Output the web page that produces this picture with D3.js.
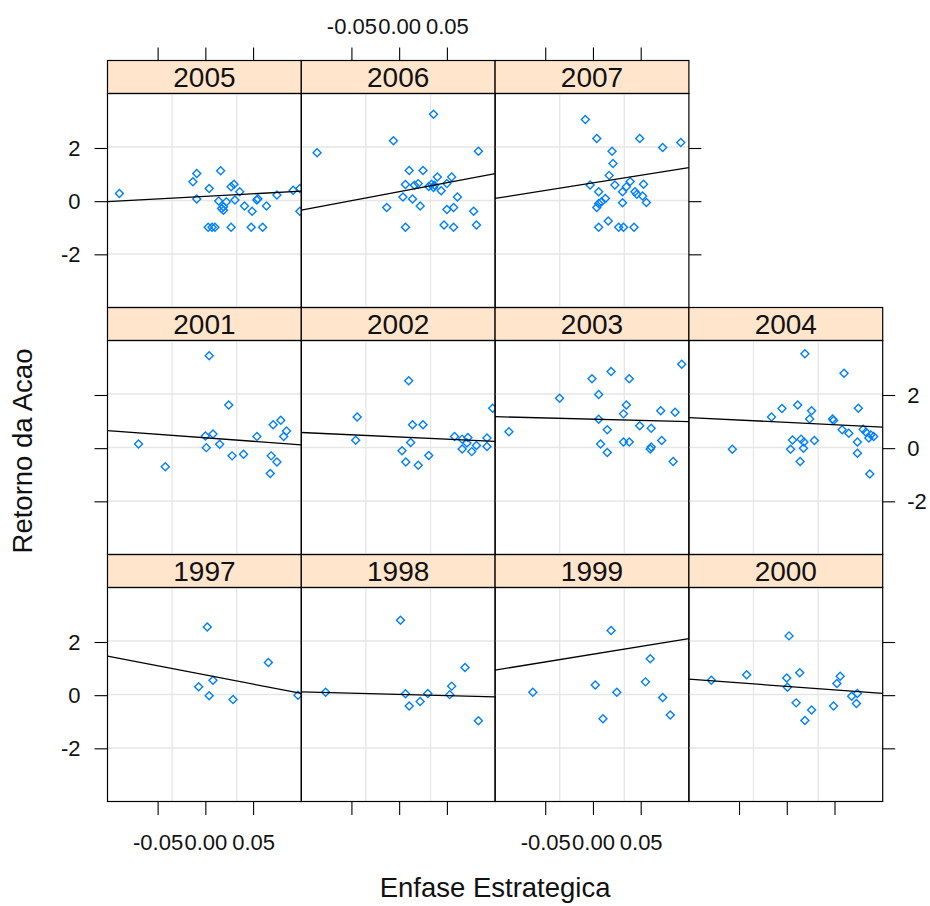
<!DOCTYPE html>
<meta charset="utf-8">
<style>
  body { margin: 0; background: #fff; }
  svg { font-family: "Liberation Sans", Arial, sans-serif; }
  .strip text { font-size: 28px; text-anchor: middle; fill: #111; }
  .grid line { stroke: #e6e6e6; stroke-width: 1.3; }
  .pt { fill: none; stroke: #0080ff; stroke-width: 1.4; }
  .fit { fill: none; stroke: #000; stroke-width: 1.3; }
  .axis text { font-size: 22px; fill: #111; }
  .axis line { stroke: #000; stroke-width: 1.1; }
  .title { font-size: 27.5px; fill: #111; }
</style>
<svg width="930" height="906"></svg>
<script src="https://cdnjs.cloudflare.com/ajax/libs/d3/7.8.5/d3.min.js"></script>
<script>

// panels, in lattice order (bottom-left first)
var years = [1997, 1998, 1999, 2000, 2001, 2002, 2003, 2004, 2005, 2006, 2007];

var xTicks = [-0.05, 0, 0.05];
var yTicks = [-2, 0, 2];

// Enfase Estrategica (x) / Retorno da Acao (y), per year
var x1997 = [0.002, 0.066, -0.007, 0.008, 0.004, 0.029, 0.097];
var y1997 = [2.56, 1.23, 0.32, 0.56, -0.02, -0.16, 0.00];
var x1998 = [0.0014, -0.077, 0.0066, 0.0105, 0.022, 0.030, 0.053, 0.055, 0.069, 0.083];
var y1998 = [2.82, 0.11, 0.05, -0.41, -0.24, 0.06, 0.02, 0.34, 1.04, -0.96];
var x1999 = [0.019, -0.063, 0.0024, 0.025, 0.0105, 0.060, 0.055, 0.073, 0.081];
var y1999 = [2.43, 0.11, 0.38, 0.11, -0.89, 1.37, 0.50, -0.09, -0.75];
var x2000 = [-0.079, -0.042, 0.0024, 0.000, 0.0007, 0.0136, 0.0098, 0.026, 0.019, 0.049, 0.056, 0.0525, 0.068, 0.074, 0.073];
var y2000 = [0.56, 0.77, 2.23, 0.65, 0.30, 0.84, -0.29, -0.56, -0.95, -0.41, 0.71, 0.44, -0.04, 0.06, -0.31];
var x2001 = [0.004, 0.0245, -0.070, -0.042, 0.000, 0.008, 0.001, 0.015, 0.028, 0.040, 0.054, 0.071, 0.079, 0.085, 0.082, 0.069, 0.075, 0.068];
var y2001 = [3.48, 1.62, 0.16, -0.70, 0.46, 0.53, 0.02, 0.15, -0.29, -0.23, 0.44, 0.88, 1.05, 0.65, 0.44, -0.29, -0.52, -0.95];
var x2002 = [0.010, -0.044, -0.0455, 0.014, 0.025, 0.012, 0.003, 0.007, 0.020, 0.031, 0.058, 0.066, 0.072, 0.071, 0.066, 0.076, 0.081, 0.092, 0.092, 0.098];
var y2002 = [2.54, 1.17, 0.30, 0.88, 0.88, 0.21, -0.10, -0.52, -0.64, -0.28, 0.44, 0.34, 0.40, 0.19, -0.03, -0.13, 0.10, 0.38, 0.06, 1.50];
var x2003 = [0.093, 0.019, -0.001, 0.038, -0.035, 0.006, 0.035, 0.032, 0.071, 0.086, -0.088, 0.006, 0.015, 0.049, 0.061, 0.008, 0.015, 0.032, 0.038, 0.060, 0.061, 0.072, 0.084];
var y2003 = [3.16, 2.88, 2.61, 2.61, 1.88, 2.02, 1.62, 1.29, 1.41, 1.35, 0.62, 1.09, 0.69, 0.84, 0.75, 0.16, -0.16, 0.23, 0.23, -0.03, 0.04, 0.29, -0.50];
var x2004 = [0.019, 0.060, -0.057, -0.016, -0.005, 0.0115, 0.026, 0.024, 0.048, 0.049, 0.075, 0.058, 0.065, 0.080, 0.083, 0.088, 0.091, 0.086, 0.074, 0.074, 0.087, 0.006, 0.015, 0.018, 0.029, 0.004, 0.0175, 0.014];
var y2004 = [3.55, 2.82, -0.04, 1.17, 1.49, 1.62, 1.41, 1.10, 1.10, 1.04, 1.50, 0.69, 0.56, 0.71, 0.60, 0.50, 0.44, 0.38, 0.23, -0.19, -0.97, 0.31, 0.34, 0.23, 0.29, -0.04, 0.00, -0.50];
var x2005 = [-0.090, -0.009, -0.013, 0.016, 0.004, -0.009, 0.014, 0.019, 0.019, 0.022, 0.027, 0.030, 0.031, 0.036, 0.041, 0.049, 0.054, 0.055, 0.064, 0.075, 0.092, 0.099, 0.099, 0.003, 0.007, 0.010, 0.027, 0.048, 0.060, 0.017];
var y2005 = [0.29, 1.04, 0.73, 1.14, 0.48, 0.08, 0.01, -0.21, -0.34, -0.02, 0.54, 0.64, 0.04, 0.35, -0.18, -0.38, 0.04, 0.09, -0.18, 0.23, 0.41, 0.48, -0.38, -0.98, -0.98, -0.98, -0.98, -0.98, -0.98, -0.28];
var x2006 = [-0.086, -0.006, 0.036, 0.083, 0.0105, 0.025, 0.0066, 0.016, 0.020, 0.034, 0.040, 0.036, 0.044, 0.050, 0.055, 0.004, 0.014, 0.061, -0.013, 0.022, 0.050, 0.057, 0.078, 0.0066, 0.047, 0.057, 0.081, 0.031, 0.037];
var y2006 = [1.82, 2.27, 3.27, 1.88, 1.15, 1.15, 0.63, 0.60, 0.66, 0.64, 0.91, 0.51, 0.39, 0.66, 0.91, 0.16, 0.08, 0.16, -0.24, -0.18, -0.31, -0.24, -0.38, -0.98, -0.90, -0.98, -0.90, 0.55, 0.60];
var x2007 = [-0.008, 0.004, 0.049, 0.073, 0.092, 0.020, 0.021, 0.017, -0.003, 0.023, 0.039, 0.053, 0.006, 0.031, 0.035, 0.044, 0.046, 0.052, 0.013, 0.009, 0.006, 0.004, 0.031, 0.056, 0.016, 0.006, 0.027, 0.032, 0.043];
var y2007 = [3.07, 2.36, 2.36, 2.02, 2.21, 1.88, 1.42, 0.97, 0.61, 0.61, 0.74, 0.64, 0.35, 0.35, 0.54, 0.35, 0.26, 0.19, 0.10, -0.02, -0.09, -0.24, -0.06, -0.05, -0.75, -0.98, -0.98, -0.98, -0.98];

// regression line per year (intercept, slope)
var fitIntercept = [0.76, 0.03, 1.54, 0.33, 0.39, 0.42, 1.09, 0.97, 0.18, 0.355, 0.69];
var fitSlope = [-6.9, -0.93, 5.82, -2.64, -2.64, -1.66, -0.93, -1.76, 1.96, 6.75, 5.72];

var xs = [x1997, x1998, x1999, x2000, x2001, x2002, x2003, x2004, x2005, x2006, x2007];
var ys = [y1997, y1998, y1999, y2000, y2001, y2002, y2003, y2004, y2005, y2006, y2007];

var svg = d3.select("svg");

// layout
var padLeft = 107.5, padTop = 60.5,
    panelW = 193.8, panelH = 214, stripH = 33,
    nCol = 4, nRow = 3;

var x = d3.scaleLinear().domain([-0.1025, 0.1005]).range([0, panelW]);
var y = d3.scaleLinear().domain([-4.0, 4.05]).range([panelH, 0]);

var fmtX = function(d) { return d.toFixed(2); };
var fmtY = function(d) { return String(d); };

var line = d3.line()
    .x(function(d) { return x(d[0]); })
    .y(function(d) { return y(d[1]); });

var diamond = d3.symbol().type(d3.symbolSquare).size(32);

var defs = svg.append("defs");
defs.append("clipPath").attr("id", "clip")
  .append("rect").attr("width", panelW).attr("height", panelH);

years.forEach(function(yr, i) {
  var col = i % nCol,
      row = nRow - 1 - Math.floor(i / nCol),   // row 0 = top
      gx = padLeft + col * panelW,
      gy = padTop + row * (stripH + panelH);

  var g = svg.append("g").attr("transform", "translate(" + gx + "," + gy + ")");

  // strip
  var s = g.append("g").attr("class", "strip");
  s.append("rect")
      .attr("width", panelW).attr("height", stripH)
      .attr("fill", "#ffe5cc").attr("stroke", "#000").attr("stroke-width", 1.2);
  s.append("text")
      .attr("x", panelW / 2).attr("y", stripH / 2)
      .attr("dy", "0.37em")
      .text(yr);

  var p = g.append("g").attr("transform", "translate(0," + stripH + ")");

  // background grid (equally spaced, as panel.grid)
  var grid = p.append("g").attr("class", "grid");
  [1, 2].forEach(function(k) {
    grid.append("line").attr("x1", panelW * k / 3).attr("x2", panelW * k / 3)
        .attr("y1", 0).attr("y2", panelH);
  });
  [1, 2, 3].forEach(function(k) {
    grid.append("line").attr("y1", panelH * k / 4).attr("y2", panelH * k / 4)
        .attr("x1", 0).attr("x2", panelW);
  });

  var inner = p.append("g").attr("clip-path", "url(#clip)");

  var pts = xs[i].map(function(v, j) { return [v, ys[i][j]]; });
  inner.selectAll(".pt")
    .data(pts)
    .enter().append("path")
      .attr("class", "pt")
      .attr("d", diamond)
      .attr("transform", function(d) {
        return "translate(" + x(d[0]) + "," + y(d[1]) + ") rotate(45)";
      });

  var dom = x.domain();
  inner.append("path")
      .attr("class", "fit")
      .attr("d", line(dom.map(function(v) { return [v, fitIntercept[i] + fitSlope[i] * v]; })));

  p.append("rect")
      .attr("width", panelW).attr("height", panelH)
      .attr("fill", "none").attr("stroke", "#000").attr("stroke-width", 1.2);

  // axes, alternating like lattice
  function clean(a) {
    a.select(".domain").remove();
    a.selectAll("text").attr("fill", "#111");
    a.selectAll("line").attr("stroke", "#000");
  }
  var lastInRow = (i === years.length - 1) || (col === nCol - 1);

  if (row === nRow - 1) {
    var ab = p.append("g").attr("class", "axis")
        .attr("transform", "translate(0," + panelH + ")")
        .call(d3.axisBottom(x).tickValues(xTicks).tickSize(13.5).tickPadding(19)
              .tickFormat(col % 2 === 0 ? fmtX : ""));
    clean(ab);
  }
  if (row === 0) {
    var at = g.append("g").attr("class", "axis")
        .call(d3.axisTop(x).tickValues(xTicks).tickSize(13).tickPadding(14)
              .tickFormat(col % 2 === 1 ? fmtX : ""));
    clean(at);
  }
  if (col === 0) {
    var al = p.append("g").attr("class", "axis")
        .call(d3.axisLeft(y).tickValues(yTicks).tickSize(13).tickPadding(14)
              .tickFormat(row % 2 === 0 ? fmtY : ""));
    clean(al);
  }
  if (lastInRow) {
    var ar = p.append("g").attr("class", "axis")
        .attr("transform", "translate(" + panelW + ",0)")
        .call(d3.axisRight(y).tickValues(yTicks).tickSize(12.5).tickPadding(12)
              .tickFormat(row % 2 === 1 ? fmtY : ""));
    clean(ar);
  }
});

// axis titles
svg.append("text").attr("class", "title")
    .attr("x", padLeft + nCol * panelW / 2).attr("y", 897)
    .attr("text-anchor", "middle")
    .text("Enfase Estrategica");

svg.append("text").attr("class", "title")
    .attr("transform", "translate(32,451) rotate(-90)")
    .attr("text-anchor", "middle")
    .text("Retorno da Acao");

</script>
